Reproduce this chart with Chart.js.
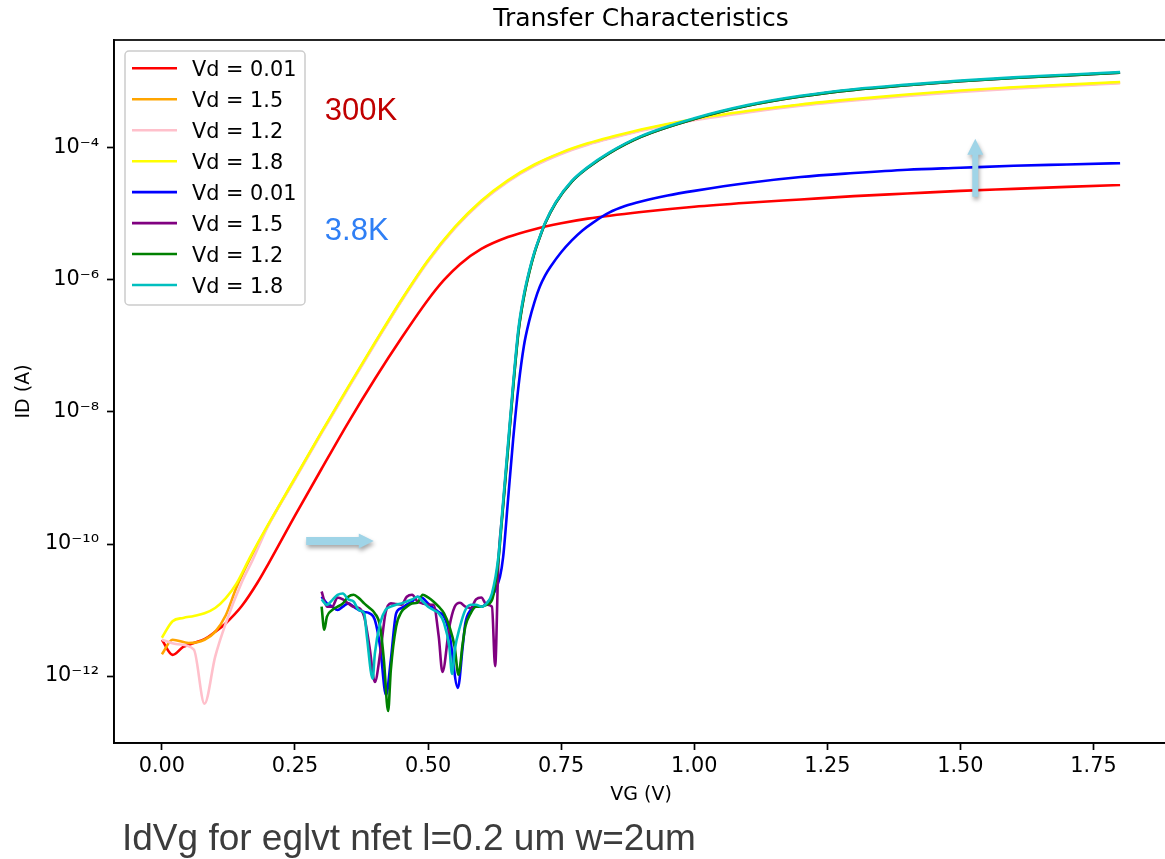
<!DOCTYPE html>
<html lang="pt">
<head>
<meta charset="utf-8">
<title>Transfer Characteristics</title>
<script src="https://cdn.jsdelivr.net/npm/chart.js@4.4.1/dist/chart.umd.min.js"></script>
<style>
    html, body { margin: 0; padding: 0; background: #fff; overflow: hidden; }
    #quadro { position: relative; width: 1165px; height: 859px; overflow: hidden; }
    #grafico { position: absolute; left: 0; top: 0; }
    #legenda-figura {
        position: absolute; left: 122px; top: 819px;
        font-family: "Liberation Sans", Arial, sans-serif; font-size: 37px; line-height: 37px;
        color: #3c3c3c; white-space: nowrap;
    }
</style>
</head>
<body>
<div id="quadro">
    <canvas id="grafico" width="1168" height="859"></canvas>
    <div id="legenda-figura">IdVg for eglvt nfet l=0.2 um w=2um</div>
</div>
<script>
    // Dados: VG em volts, ID guardado como log10(ID/A)
    // 300K
    const vg300_001 = [0.00, 0.02, 0.04, 0.06, 0.08, 0.10, 0.12, 0.15, 0.18, 0.20, 0.25, 0.30, 0.35, 0.40, 0.45, 0.50, 0.53, 0.56, 0.60, 0.65, 0.70, 0.75, 0.80, 0.90, 1.00, 1.10, 1.20, 1.30, 1.40, 1.50, 1.60, 1.70, 1.80];
    const logId300_001 = [-11.45, -11.68, -11.56, -11.50, -11.44, -11.33, -11.20, -10.94, -10.58, -10.30, -9.57, -8.86, -8.16, -7.50, -6.88, -6.30, -6.00, -5.76, -5.53, -5.35, -5.23, -5.14, -5.07, -4.97, -4.89, -4.83, -4.78, -4.73, -4.69, -4.65, -4.62, -4.59, -4.56];

    const vg300_15 = [0.00, 0.02, 0.05, 0.08, 0.10, 0.12, 0.14, 0.165, 0.20, 0.25, 0.30, 0.35, 0.40, 0.45, 0.50, 0.55, 0.60, 0.65, 0.70, 0.75, 0.80, 0.85, 0.90, 1.00, 1.10, 1.20, 1.30, 1.40, 1.50, 1.60, 1.70, 1.80];
    const logId300_15 = [-11.67, -11.45, -11.50, -11.45, -11.33, -11.08, -10.66, -10.23, -9.71, -9.01, -8.31, -7.63, -6.96, -6.31, -5.71, -5.21, -4.81, -4.50, -4.26, -4.08, -3.94, -3.83, -3.73, -3.57, -3.45, -3.35, -3.27, -3.20, -3.14, -3.09, -3.05, -3.01];

    const vg300_12 = [0.00, 0.03, 0.06, 0.08, 0.10, 0.12, 0.15, 0.17, 0.20, 0.25, 0.30, 0.35, 0.40, 0.45, 0.50, 0.55, 0.60, 0.65, 0.70, 0.75, 0.80, 0.85, 0.90, 1.00, 1.10, 1.20, 1.30, 1.40, 1.50, 1.60, 1.70, 1.80];
    const logId300_12 = [-11.45, -11.52, -11.60, -12.42, -11.71, -11.20, -10.58, -10.25, -9.72, -9.02, -8.32, -7.64, -6.97, -6.32, -5.72, -5.22, -4.82, -4.51, -4.27, -4.09, -3.95, -3.84, -3.74, -3.58, -3.46, -3.36, -3.28, -3.21, -3.15, -3.10, -3.06, -3.02];

    const vg300_18 = [0.00, 0.02, 0.04, 0.06, 0.08, 0.10, 0.12, 0.14, 0.165, 0.20, 0.25, 0.30, 0.35, 0.40, 0.45, 0.50, 0.55, 0.60, 0.65, 0.70, 0.75, 0.80, 0.85, 0.90, 1.00, 1.10, 1.20, 1.30, 1.40, 1.50, 1.60, 1.70, 1.80];
    const logId300_18 = [-11.42, -11.17, -11.12, -11.09, -11.05, -10.97, -10.82, -10.60, -10.21, -9.70, -9.00, -8.30, -7.62, -6.95, -6.30, -5.70, -5.20, -4.80, -4.49, -4.25, -4.07, -3.93, -3.82, -3.72, -3.56, -3.44, -3.34, -3.26, -3.19, -3.13, -3.08, -3.04, -3.00];

    // 3.8K
    const vg38_001 = [0.30, 0.31, 0.32, 0.33, 0.34, 0.35, 0.36, 0.37, 0.38, 0.39, 0.40, 0.41, 0.421, 0.43, 0.44, 0.45, 0.46, 0.47, 0.48, 0.49, 0.50, 0.51, 0.52, 0.53, 0.54, 0.556, 0.565, 0.57, 0.58, 0.59, 0.60, 0.61, 0.62, 0.635, 0.641, 0.65, 0.66, 0.67, 0.68, 0.69, 0.70, 0.71, 0.72, 0.73, 0.75, 0.77, 0.79, 0.81, 0.84, 0.87, 0.90, 0.95, 1.00, 1.10, 1.20, 1.30, 1.40, 1.50, 1.60, 1.70, 1.80];
    const logId38_001 = [-10.80, -10.90, -10.95, -11.00, -10.95, -10.90, -10.95, -11.00, -11.03, -11.05, -11.15, -11.56, -12.29, -11.76, -11.05, -10.97, -10.92, -10.87, -10.80, -10.82, -10.90, -10.97, -11.03, -11.10, -11.35, -12.18, -11.56, -11.20, -11.00, -10.95, -10.95, -10.90, -10.80, -10.50, -10.20, -9.35, -8.40, -7.60, -7.00, -6.62, -6.33, -6.10, -5.93, -5.80, -5.58, -5.40, -5.25, -5.13, -4.98, -4.88, -4.81, -4.72, -4.65, -4.53, -4.44, -4.38, -4.33, -4.30, -4.27, -4.25, -4.23];

    const vg38_15 = [0.30, 0.31, 0.32, 0.33, 0.34, 0.35, 0.36, 0.37, 0.38, 0.39, 0.40, 0.41, 0.42, 0.43, 0.44, 0.45, 0.46, 0.47, 0.48, 0.49, 0.50, 0.51, 0.52, 0.527, 0.54, 0.55, 0.56, 0.57, 0.58, 0.59, 0.60, 0.61, 0.62, 0.626, 0.632, 0.64, 0.65, 0.66, 0.67, 0.68, 0.69, 0.70, 0.71, 0.72, 0.74, 0.77, 0.80, 0.84, 0.90, 1.00, 1.10, 1.20, 1.30, 1.40, 1.50, 1.60, 1.70, 1.80];
    const logId38_15 = [-10.72, -10.95, -10.95, -10.81, -10.84, -10.90, -10.95, -10.97, -11.10, -11.56, -12.09, -11.66, -11.05, -10.90, -10.91, -10.92, -10.80, -10.77, -10.87, -10.90, -10.92, -10.92, -11.40, -11.94, -11.25, -10.95, -10.89, -10.95, -10.97, -10.84, -10.81, -10.92, -10.95, -11.85, -10.30, -9.50, -8.55, -7.60, -6.76, -6.25, -5.88, -5.58, -5.35, -5.14, -4.83, -4.51, -4.30, -4.08, -3.83, -3.56, -3.36, -3.22, -3.12, -3.05, -2.99, -2.94, -2.90, -2.86];

    const vg38_12 = [0.30, 0.305, 0.31, 0.32, 0.33, 0.34, 0.35, 0.36, 0.37, 0.38, 0.39, 0.40, 0.41, 0.417, 0.425, 0.43, 0.44, 0.45, 0.46, 0.47, 0.48, 0.49, 0.50, 0.51, 0.52, 0.53, 0.54, 0.55, 0.557, 0.565, 0.57, 0.58, 0.59, 0.60, 0.61, 0.62, 0.632, 0.64, 0.65, 0.66, 0.67, 0.68, 0.69, 0.70, 0.71, 0.72, 0.74, 0.77, 0.80, 0.84, 0.90, 1.00, 1.10, 1.20, 1.30, 1.40, 1.50, 1.60, 1.70, 1.80];
    const logId38_12 = [-10.95, -11.30, -11.10, -11.00, -10.95, -10.90, -10.80, -10.77, -10.82, -10.90, -10.97, -11.05, -11.25, -11.76, -12.53, -11.91, -11.25, -11.03, -10.95, -10.90, -10.89, -10.77, -10.81, -10.87, -10.95, -11.05, -11.25, -11.56, -11.98, -11.51, -11.25, -11.05, -10.95, -10.95, -10.92, -10.85, -10.25, -9.52, -8.58, -7.62, -6.78, -6.26, -5.89, -5.59, -5.35, -5.14, -4.83, -4.51, -4.30, -4.08, -3.83, -3.56, -3.36, -3.22, -3.12, -3.05, -2.99, -2.94, -2.90, -2.86];

    const vg38_18 = [0.30, 0.31, 0.32, 0.33, 0.34, 0.35, 0.36, 0.37, 0.38, 0.385, 0.396, 0.40, 0.41, 0.42, 0.43, 0.44, 0.45, 0.46, 0.47, 0.48, 0.49, 0.50, 0.51, 0.52, 0.53, 0.54, 0.545, 0.55, 0.56, 0.57, 0.58, 0.59, 0.60, 0.61, 0.62, 0.632, 0.64, 0.65, 0.66, 0.67, 0.68, 0.69, 0.70, 0.71, 0.72, 0.74, 0.77, 0.80, 0.84, 0.90, 1.00, 1.10, 1.20, 1.30, 1.40, 1.50, 1.60, 1.70, 1.80];
    const logId38_18 = [-10.84, -10.92, -10.85, -10.77, -10.75, -10.84, -10.87, -11.00, -11.05, -11.40, -12.04, -11.66, -11.20, -11.00, -10.95, -10.92, -10.90, -10.87, -10.84, -10.80, -10.87, -10.95, -11.00, -11.05, -11.20, -11.56, -11.97, -11.61, -11.25, -11.00, -10.92, -10.92, -10.95, -10.90, -10.75, -10.20, -9.45, -8.50, -7.55, -6.72, -6.22, -5.86, -5.57, -5.34, -5.13, -4.82, -4.50, -4.29, -4.07, -3.82, -3.55, -3.35, -3.21, -3.11, -3.04, -2.98, -2.93, -2.89, -2.85];

    const nomesSeries = ['Vd = 0.01', 'Vd = 1.5', 'Vd = 1.2', 'Vd = 1.8', 'Vd = 0.01', 'Vd = 1.5', 'Vd = 1.2', 'Vd = 1.8'];
    const coresSeries = ['#ff0000', '#ffa500', '#ffc0cb', '#ffff00', '#0000ff', '#800080', '#008000', '#00bfbf'];

    // Ticks dos eixos
    const ticksVG = [0.00, 0.25, 0.50, 0.75, 1.00, 1.25, 1.50, 1.75];
    const expoentesID = [-12, -10, -8, -6, -4];

    const series = [
        [vg300_001, logId300_001], [vg300_15, logId300_15], [vg300_12, logId300_12], [vg300_18, logId300_18],
        [vg38_001, logId38_001], [vg38_15, logId38_15], [vg38_12, logId38_12], [vg38_18, logId38_18]
    ];

    const fonteBase = 'DejaVu Sans';
    Chart.defaults.font.family = fonteBase;
    Chart.defaults.color = '#000';

    // Converte expoente em texto com sobrescrito (10⁻⁴)
    function sobrescrito(n) {
        const mapa = { '-': '\u207B', '0': '\u2070', '1': '\u00B9', '2': '\u00B2', '3': '\u00B3', '4': '\u2074', '5': '\u2075', '6': '\u2076', '7': '\u2077', '8': '\u2078', '9': '\u2079' };
        return String(n).split('').map(c => mapa[c]).join('');
    }

    // Moldura completa (matplotlib desenha as 4 bordas)
    const pluginMoldura = {
        id: 'moldura',
        afterDatasetsDraw(chart) {
            const { ctx, chartArea: a } = chart;
            ctx.save();
            ctx.strokeStyle = '#000';
            ctx.lineWidth = 1.7;
            ctx.strokeRect(a.left, a.top, a.right - a.left, a.bottom - a.top);
            ctx.restore();
        }
    };

    // Legenda dentro da área do gráfico, no canto superior esquerdo
    const pluginLegenda = {
        id: 'legendaInterna',
        afterDraw(chart) {
            const { ctx, chartArea: a } = chart;
            const x0 = a.left + 11, y0 = a.top + 11, w = 180, h = 254;
            ctx.save();
            ctx.beginPath();
            ctx.roundRect(x0, y0, w, h, 4);
            ctx.fillStyle = 'rgba(255,255,255,0.8)';
            ctx.fill();
            ctx.strokeStyle = '#cccccc';
            ctx.lineWidth = 1.5;
            ctx.stroke();
            ctx.font = '20.8px "' + fonteBase + '"';
            ctx.textBaseline = 'alphabetic';
            chart.data.datasets.forEach((ds, i) => {
                const y = a.top + 28.3 + i * 30.96;
                ctx.beginPath();
                ctx.moveTo(x0 + 7, y);
                ctx.lineTo(x0 + 52, y);
                ctx.strokeStyle = ds.borderColor;
                ctx.lineWidth = 2.6;
                ctx.stroke();
                ctx.fillStyle = '#000';
                ctx.fillText(ds.label, x0 + 67, y + 7.6);
            });
            ctx.restore();
        }
    };

    // Anotações: temperaturas e setas
    function desenharSeta(ctx, x1, y1, x2, y2, meia, cabeca, meiaCabeca) {
        const ang = Math.atan2(y2 - y1, x2 - x1);
        const comp = Math.hypot(x2 - x1, y2 - y1);
        ctx.save();
        ctx.translate(x1, y1);
        ctx.rotate(ang);
        ctx.beginPath();
        ctx.moveTo(0, -meia);
        ctx.lineTo(comp - cabeca, -meia);
        ctx.lineTo(comp - cabeca, -meiaCabeca);
        ctx.lineTo(comp, 0);
        ctx.lineTo(comp - cabeca, meiaCabeca);
        ctx.lineTo(comp - cabeca, meia);
        ctx.lineTo(0, meia);
        ctx.closePath();
        ctx.fill();
        ctx.restore();
    }

    const pluginAnotacoes = {
        id: 'anotacoes',
        afterDatasetsDraw(chart) {
            const { ctx, scales: { x, y } } = chart;
            ctx.save();
            ctx.font = '31px "Liberation Sans", Arial, sans-serif';
            ctx.textBaseline = 'alphabetic';
            ctx.fillStyle = '#c00000';
            ctx.fillText('300K', x.getPixelForValue(0.306), y.getPixelForValue(Math.pow(10, -3.576)));
            ctx.fillStyle = '#2f7ff5';
            ctx.fillText('3.8K', x.getPixelForValue(0.306), y.getPixelForValue(Math.pow(10, -5.394)));

            ctx.fillStyle = '#9fd4e7';
            ctx.shadowColor = 'rgba(0,0,0,0.35)';
            ctx.shadowBlur = 4;
            ctx.shadowOffsetX = 1;
            ctx.shadowOffsetY = 3;
            const yh = y.getPixelForValue(Math.pow(10, -9.955));
            desenharSeta(ctx, x.getPixelForValue(0.271), yh, x.getPixelForValue(0.398), yh, 4, 15, 7.5);
            const xv = x.getPixelForValue(1.528);
            desenharSeta(ctx, xv, y.getPixelForValue(Math.pow(10, -4.74)), xv, y.getPixelForValue(Math.pow(10, -3.86)), 3, 16, 8);
            ctx.restore();
        }
    };

    const datasets = series.map(([vg, logId], i) => ({
        label: nomesSeries[i],
        data: vg.map((v, k) => ({ x: v, y: Math.pow(10, logId[k]) })),
        borderColor: coresSeries[i],
        backgroundColor: coresSeries[i],
        borderWidth: 2.6,
        pointRadius: 0,
        cubicInterpolationMode: 'monotone', // curvas suaves sem ultrapassar os pontos
        fill: false,
        order: -i // a última série fica por cima, como no matplotlib
    }));

    const fonteTicks = { family: fonteBase, size: 20.8 };

    const ctx = document.getElementById('grafico').getContext('2d');
    new Chart(ctx, {
        type: 'line',
        data: { datasets },
        options: {
            responsive: false,
            animation: false,
            devicePixelRatio: 1,
            layout: { padding: 0 },
            plugins: {
                legend: { display: false },
                tooltip: { enabled: false },
                title: {
                    display: true,
                    text: 'Transfer Characteristics',
                    fullSize: false,
                    color: '#000',
                    font: { family: fonteBase, size: 25, weight: 'normal', lineHeight: 1.2 },
                    padding: { top: 4, bottom: 6 }
                }
            },
            scales: {
                x: {
                    type: 'linear',
                    min: -0.09,
                    max: 1.89,
                    afterBuildTicks: (escala) => { escala.ticks = ticksVG.map(v => ({ value: v })); },
                    afterFit: (escala) => { escala.height = 116; },
                    ticks: { callback: (v) => Number(v).toFixed(2), font: fonteTicks, color: '#000', padding: 4, maxRotation: 0, autoSkip: false },
                    grid: { display: true, drawOnChartArea: false, drawTicks: true, tickLength: 7, tickColor: '#000', tickWidth: 1.7 },
                    border: { display: true, color: '#000', width: 1.7 },
                    title: { display: true, text: 'VG (V)', color: '#000', font: { family: fonteBase, size: 19, lineHeight: 1.2 }, padding: { top: 0, bottom: 52.6 } }
                },
                y: {
                    type: 'logarithmic',
                    min: Math.pow(10, -13.015),
                    max: Math.pow(10, -2.364),
                    afterBuildTicks: (escala) => { escala.ticks = expoentesID.map(e => ({ value: Math.pow(10, e) })); },
                    afterFit: (escala) => { escala.width = 114; },
                    ticks: { callback: (v) => '10' + sobrescrito(Math.round(Math.log10(v))), font: fonteTicks, color: '#000', padding: 8, autoSkip: false },
                    grid: { display: true, drawOnChartArea: false, drawTicks: true, tickLength: 7, tickColor: '#000', tickWidth: 1.7 },
                    border: { display: true, color: '#000', width: 1.7 },
                    title: { display: true, text: 'ID (A)', color: '#000', font: { family: fonteBase, size: 19, lineHeight: 1.2 }, padding: { top: 12.6, bottom: 0 } }
                }
            }
        },
        plugins: [pluginMoldura, pluginAnotacoes, pluginLegenda]
    });
</script>
</body>
</html>
